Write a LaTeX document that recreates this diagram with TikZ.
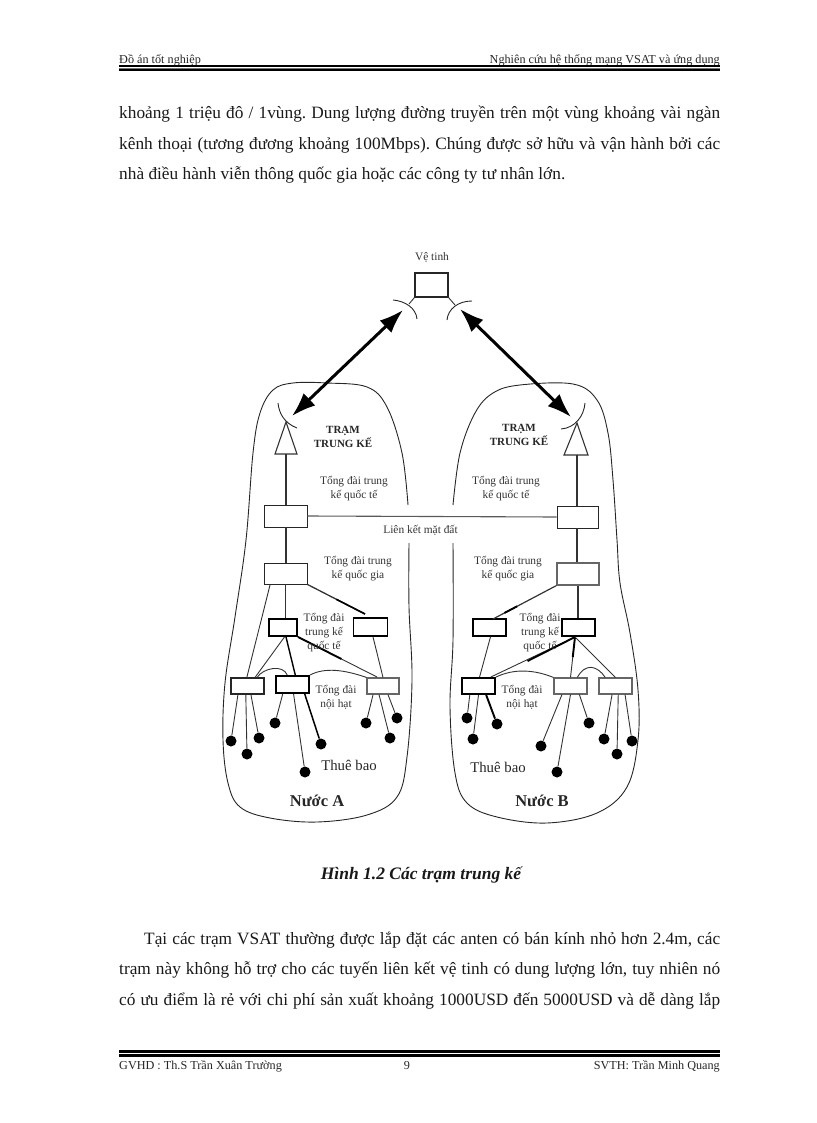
\documentclass[tikz,border=0pt]{standalone}
\usepackage{fontspec}
\setmainfont{Liberation Serif}
\usetikzlibrary{arrows.meta,calc}
\newcommand\Sf[2]{($(#1.south west)!#2!(#1.south east)$)}
\newcommand\Nf[2]{($(#1.north west)!#2!(#1.north east)$)}
\frenchspacing
\tikzset{
  bx/.style={draw=black!85,line width=0.9,fill=white,inner sep=0,rectangle},
  bxg/.style={draw=black!60,line width=1.1,fill=white,inner sep=0,rectangle},
  bxt/.style={draw=black,line width=1.9,fill=white,inner sep=0,rectangle},
  wire/.style={draw=black!80,line width=0.9},
  heavy/.style={draw=black,line width=1.9},
  outline/.style={draw=black!85,line width=0.9},
  dot/.style={circle,fill=black,inner sep=0,minimum size=11},
  lbl/.style={inner sep=0,align=center,font=\fontsize{11.4}{14}\selectfont,text=black!80},
  ttl/.style={inner sep=0,align=center,font=\fontsize{11}{14}\selectfont\bfseries,text=black!85},
  big/.style={inner sep=0,font=\fontsize{14.8}{16}\selectfont,text=black!85},
  cnt/.style={inner sep=0,font=\fontsize{16.5}{18}\selectfont\bfseries,text=black!85},
  body/.style={inner sep=0,anchor=base west,font=\fontsize{17.3}{20}\selectfont,text=black!90},
  hdr/.style={inner sep=0,font=\fontsize{12.2}{14}\selectfont,text=black!85},
  dblarrow/.style={line width=3,{Latex[length=24,width=17]}-{Latex[length=24,width=17]}},
}
\begin{document}
\begin{tikzpicture}[x=1pt,y=-1pt]
\useasboundingbox (0,0) rectangle (816,1123);
% header
\node[hdr,anchor=base west] (hl) at (119,63.5) {Đồ án tốt nghiệp};
\node[hdr,anchor=base east] (hr) at (720,63.5) {Nghiên cứu hệ thống mạng VSAT và ứng dụng};
\fill[black] (119,65) rectangle (720,67.4);
\fill[black!55] (119,67.8) rectangle (720,69);
\fill[black] (119,69.3) rectangle (720,71);
% body top
\node[body] (t1) at (119,119) {\makebox[601pt][s]{khoảng 1 triệu đô / 1vùng. Dung lượng đường truyền trên một vùng khoảng vài ngàn}};
\node[body] (t2) at (119,150) {\makebox[601pt][s]{kênh thoại (tương đương khoảng 100Mbps). Chúng được sở hữu và vận hành bởi các}};
\node[body] (t3) at (119,180) {nhà điều hành viễn thông quốc gia hoặc các công ty tư nhân lớn.};
% outlines
\draw[outline] plot[smooth,tension=0.6] coordinates {(408,505) (402,453) (387,407) (367,387) (327,383) (293,383) (273,390) (260,413) (253,453) (246,540) (235,617) (225,683) (223,740) (228,783) (240,807) (270,818) (317,822) (367,815) (397,797) (407,757) (412,680) (409,607) (409,543)};
\draw[outline] plot[smooth,tension=0.6] coordinates {(453,505) (460,453) (475,413) (493,393) (520,385) (573,384) (597,400) (608,433) (613,480) (617,540) (620,583) (630,633) (638,690) (638,740) (627,787) (597,813) (547,823) (497,817) (467,803) (455,773) (450,707) (453,640) (453,543)};
% satellite
\node[bx,line width=1.1,minimum width=33,minimum height=24] (sat) at (431.5,285) {};
\node[lbl] (satl) at (432,257) {Vệ tinh};
\coordinate (dl) at (409,304);
\coordinate (dr) at (455,305);
\draw[outline] (393,300) .. controls (405,301) and (416,308) .. (417,319);
\draw[outline] (472,301) .. controls (458,301) and (448,309) .. (447,320);
\draw[wire] (sat.south west) -- (dl);
\draw[wire] (sat.south east) -- (dr);
% link arrows
\coordinate (al) at (403,310); \coordinate (bl) at (292,416);
\coordinate (ar) at (460,309); \coordinate (br) at (571,417);
\draw[dblarrow] (al) -- (bl);
\draw[dblarrow] (ar) -- (br);
% ---------- country A
\coordinate (tA) at (286,422);
\draw[outline] (278,403) .. controls (279,413) and (284,423) .. (297,428);
\draw[wire,line width=1.1] (tA) -- (275,454) -- (297,454) -- cycle;
\node[bx,minimum width=43,minimum height=22] (A1) at (285.5,516) {};
\node[bx,minimum width=43,minimum height=21] (A2) at (285.5,573.5) {};
\node[bxt,minimum width=28,minimum height=17] (A3) at (283,627.5) {};
\node[bxt,minimum width=34,minimum height=18] (A4) at (370.5,627) {};
\node[bx,line width=1.1,minimum width=33,minimum height=16] (AL1) at (247.5,686) {};
\node[bxt,minimum width=33,minimum height=17] (AL2) at (292.5,684.5) {};
\node[bxg,minimum width=32,minimum height=16] (AL3) at (383,686) {};
\draw[wire,line width=1.3] (286,454) -- (A1.north -| 286,0);
\draw[wire,line width=1.3] (A1.south -| 286,0) -- (A2.north -| 286,0);
\draw[wire] (A2.south -| 285,0) -- (A3.north -| 285,0);
\coordinate (A2c) at (365,614);
\draw[wire,line width=1.3] (A2.south east) -- (A2c);
\draw[heavy,line width=1.6] ($(A2.south east)!.5!(A2c)$) -- (A2c);
\draw[wire] \Sf{A2}{.15} -- \Nf{AL1}{.48};
\draw[wire] \Sf{A3}{.55} -- \Nf{AL1}{.72};
\draw[heavy,line width=1.4] \Sf{A3}{.6} -- \Nf{AL2}{.58};
\coordinate (Ax) at (377,677);
\draw[wire] (A3.south east) -- (Ax);
\draw[heavy] (A3.south east) -- ($(A3.south east)!.55!(Ax)$);
\draw[wire] \Sf{A4}{.57} -- (AL3.north);
\draw[wire] \Nf{AL1}{.78} .. controls (263,668) and (283,664) .. \Nf{AL2}{.35};
\draw[wire] (AL2.north east) .. controls (325,667) and (345,670) .. (AL3.north west);
% subscribers A
\node[dot] (a1) at (231,741) {}; \node[dot] (a2) at (247,754) {}; \node[dot] (a3) at (259,738) {};
\node[dot] (a4) at (275,723) {}; \node[dot] (a5) at (305,772) {}; \node[dot] (a6) at (321,744) {};
\node[dot] (a7) at (366,723) {}; \node[dot] (a8) at (390,738) {}; \node[dot] (a9) at (397,718) {};
\draw[wire] \Sf{AL1}{.22} -- (a1); \draw[wire] \Sf{AL1}{.45} -- (a2); \draw[wire] \Sf{AL1}{.6} -- (a3);
\draw[wire] \Sf{AL2}{.22} -- (a4); \draw[wire] \Sf{AL2}{.53} -- (a5); \draw[heavy,line width=1.5] \Sf{AL2}{.85} -- (a6);
\draw[wire] \Sf{AL3}{.2} -- (a7); \draw[wire] \Sf{AL3}{.38} -- (a8); \draw[wire] \Sf{AL3}{.65} -- (a9);
\node[ttl] (Att) at (343,437) {TRẠM\\TRUNG KẾ};
\node[lbl] (At1) at (354,489) {Tổng đài trung\\kế quốc tế};
\node[lbl] (At2) at (358,568.5) {Tổng đài trung\\kế quốc gia};
\node[lbl] (At3) at (324,633) {Tổng đài\\trung kế\\quốc tế};
\node[lbl] (At4) at (336,697) {Tổng đài\\nội hạt};
\node[big] (Atb) at (349,765) {Thuê bao};
\node[cnt] (Ann) at (317,801) {Nước A};
% ---------- country B
\coordinate (tB) at (577,423);
\draw[outline] (561,429) .. controls (575,428) and (584,416) .. (585,403);
\draw[wire,line width=1.1] (tB) -- (564,455) -- (588,455) -- cycle;
\node[bx,minimum width=41,minimum height=22] (B1) at (577.5,517) {};
\node[bxg,minimum width=42,minimum height=22] (B2) at (578,574) {};
\node[bxt,minimum width=33,minimum height=17] (B3) at (578.5,627.5) {};
\node[bxt,line width=1.4,minimum width=33,minimum height=17] (B4) at (489.5,627.5) {};
\node[bxt,minimum width=33,minimum height=16] (BL1) at (478.5,686) {};
\node[bxg,minimum width=33,minimum height=16] (BL2) at (570.5,686) {};
\node[bxg,minimum width=33,minimum height=16] (BL3) at (615.5,686) {};
\draw[wire,line width=1.3] (577,455) -- (B1.north -| 577,0);
\draw[wire,line width=1.3] (B1.south -| 577,0) -- (B2.north -| 577,0);
\draw[wire,line width=1.2] (B2.south -| 578,0) -- (B3.north -| 578,0);
\coordinate (B4c) at (493,619);
\draw[wire,line width=1.2] (B2.south west) -- (B4c);
\draw[heavy] ($(B2.south west)!.62!(B4c)$) -- ($(B2.south west)!.82!(B4c)$);
\draw[wire] \Sf{B4}{.53} -- \Nf{BL1}{.53};
\coordinate (Bx) at (575,637);
\draw[wire] (Bx) -- \Nf{BL1}{.85};
\draw[heavy] (Bx) -- ($(Bx)!.6!(BL1.north east)$);
\draw[wire] (Bx) -- \Nf{BL2}{.5};
\draw[heavy] (Bx) -- ($(Bx)!.5!(BL2.north)$);
\draw[wire] (Bx) -- \Nf{BL3}{.5};
\draw[wire] (BL1.north east) .. controls (515,668) and (535,670) .. (BL2.north west);
\draw[wire] \Nf{BL2}{.7} .. controls (585,663) and (597,665) .. \Nf{BL3}{.2};
% subscribers B
\node[dot] (b1) at (467,718) {}; \node[dot] (b2) at (473,739) {}; \node[dot] (b3) at (497,724) {};
\node[dot] (b4) at (541,746) {}; \node[dot] (b5) at (557,772) {}; \node[dot] (b6) at (589,723) {};
\node[dot] (b7) at (604,739) {}; \node[dot] (b8) at (617,754) {}; \node[dot] (b9) at (632,741) {};
\draw[wire] \Sf{BL1}{.25} -- (b1); \draw[wire] \Sf{BL1}{.5} -- (b2); \draw[heavy] \Sf{BL1}{.72} -- (b3);
\draw[wire] \Sf{BL2}{.25} -- (b4); \draw[wire] \Sf{BL2}{.5} -- (b5); \draw[wire] \Sf{BL2}{.76} -- (b6);
\draw[wire] \Sf{BL3}{.4} -- (b7); \draw[wire] \Sf{BL3}{.58} -- (b8); \draw[wire] \Sf{BL3}{.78} -- (b9);
\node[ttl] (Btt) at (519,435) {TRẠM\\TRUNG KẾ};
\node[lbl] (Bt1) at (506,489) {Tổng đài trung\\kế quốc tế};
\node[lbl] (Bt2) at (508,568.5) {Tổng đài trung\\kế quốc gia};
\node[lbl] (Bt3) at (540,633) {Tổng đài\\trung kế\\quốc tế};
\node[lbl] (Bt4) at (522,697) {Tổng đài\\nội hạt};
\node[big] (Btb) at (498,767) {Thuê bao};
\node[cnt] (Bnn) at (542,801) {Nước B};
% ground link
\draw[wire,draw=black!65,line width=1.1] (A1.east) -- (B1.west);
\node[lbl] (lnk) at (420.5,530) {Liên kết mặt đất};
% caption
\node[inner sep=0,font=\fontsize{17.5}{20}\selectfont\bfseries\itshape,text=black!90] (cap) at (421,875) {Hình 1.2 Các trạm trung kế};
% body bottom
\node[body] (u1) at (144,944) {\makebox[576pt][s]{Tại các trạm VSAT thường được lắp đặt các anten có bán kính nhỏ hơn 2.4m, các}};
\node[body] (u2) at (119,974) {\makebox[601pt][s]{trạm này không hỗ trợ cho các tuyến liên kết vệ tinh có dung lượng lớn, tuy nhiên nó}};
\node[body] (u3) at (119,1005) {\makebox[601pt][s]{có ưu điểm là rẻ với chi phí sản xuất khoảng 1000USD đến 5000USD và dễ dàng lắp}};
% footer
\fill[black] (119,1050) rectangle (720,1053);
\fill[black] (119,1054) rectangle (720,1056.5);
\node[hdr,anchor=base west] (fl) at (119,1069) {GVHD : Th.S Trần Xuân Trường};
\node[hdr,anchor=base] (fc) at (407,1069) {9};
\node[hdr,anchor=base east] (fr) at (720,1069) {SVTH: Trần Minh Quang};
\end{tikzpicture}
\end{document}
